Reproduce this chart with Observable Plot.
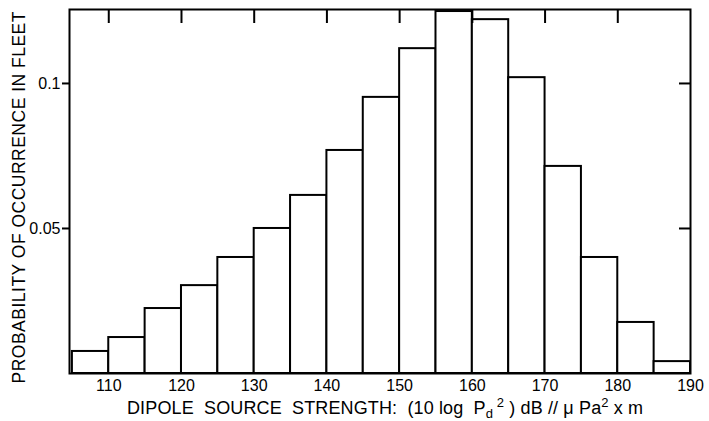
<!DOCTYPE html>
<html>
<head>
<meta charset="utf-8">
<script src="https://cdn.jsdelivr.net/npm/d3@7"></script>
<script src="https://cdn.jsdelivr.net/npm/@observablehq/plot@0.6"></script>
<style>
  html, body { margin: 0; padding: 0; background: #fff; }
</style>
</head>
<body>
<div id="chart"></div>
<script>
// Data
const binStart = [105, 110, 115, 120, 125, 130, 135, 140, 145, 150, 155, 160, 165, 170, 175, 180, 185];
const binWidth = 5;
const probability = [0.0076, 0.0124, 0.0224, 0.0303, 0.040, 0.050, 0.0614, 0.0769, 0.0952, 0.112, 0.1248, 0.122, 0.102, 0.0714, 0.040, 0.0176, 0.0041];
const xTickValues = [110, 120, 130, 140, 150, 160, 170, 180, 190];
const xTickLabels = ["110", "120", "130", "140", "150", "160", "170", "180", "190"];
const yTickValues = [0.05, 0.1];
const yTickLabels = ["0.05", "0.1"];
const yTitle = "PROBABILITY OF OCCURRENCE IN FLEET";

const bins = binStart.map((lo, i) => ({lo, hi: lo + binWidth, p: probability[i]}));
const font = "'Liberation Sans', Arial, sans-serif";

const chart = Plot.plot({
  width: 709,
  height: 421,
  marginLeft: 69,
  marginRight: 19,
  marginTop: 9,
  marginBottom: 48,
  style: {fontFamily: font, fontSize: "16px", color: "black", background: "white"},
  x: {domain: [104.6, 190]},
  y: {domain: [0, 0.1255]},
  marks: [
    Plot.rectY(bins, {x1: "lo", x2: "hi", y: "p", fill: "white", stroke: "black", strokeWidth: 2}),
    Plot.frame({stroke: "black", strokeWidth: 2}),
    Plot.axisX({anchor: "top", ticks: xTickValues.filter(v => v < 190), tickSize: -13, strokeWidth: 2, tickFormat: () => "", label: null}),
    Plot.axisX({anchor: "bottom", ticks: xTickValues, tickSize: 0, tickPadding: 6, label: null,
      tickFormat: d => xTickLabels[xTickValues.indexOf(d)]}),
    Plot.axisY({anchor: "left", ticks: yTickValues, tickSize: 7, strokeWidth: 2, tickPadding: 2, label: null,
      tickFormat: d => yTickLabels[yTickValues.indexOf(d)]}),
    Plot.axisY({anchor: "right", ticks: yTickValues, tickSize: -12, strokeWidth: 2, tickFormat: () => "", label: null}),
    Plot.text([yTitle], {frameAnchor: "left", textAnchor: "middle", dx: -50, dy: 6, rotate: -90, fontSize: 17.5, fill: "black"})
  ]
});

document.getElementById("chart").appendChild(chart);

const svg = d3.select(chart);
// stretch the rotated y title to the reference length
svg.selectAll('g[aria-label="text"] text')
  .attr("textLength", 372)
  .attr("lengthAdjust", "spacing");

// X-axis title with subscript/superscript
const t = svg.append("text")
  .attr("x", 385)
  .attr("y", 414)
  .attr("text-anchor", "middle")
  .attr("font-family", font)
  .attr("font-size", 18)
  .attr("fill", "black")
  .attr("textLength", 516)
  .attr("lengthAdjust", "spacing");
t.append("tspan").text("DIPOLE  SOURCE  STRENGTH:  (10 log  P");
t.append("tspan").attr("dy", 4).attr("font-size", 13).text("d");
t.append("tspan").attr("dy", -11).attr("font-size", 13).text(" 2");
t.append("tspan").attr("dy", 7).text(" ) dB // μ Pa");
t.append("tspan").attr("dy", -7).attr("font-size", 13).text("2");
t.append("tspan").attr("dy", 7).text(" x m");
</script>
</body>
</html>
